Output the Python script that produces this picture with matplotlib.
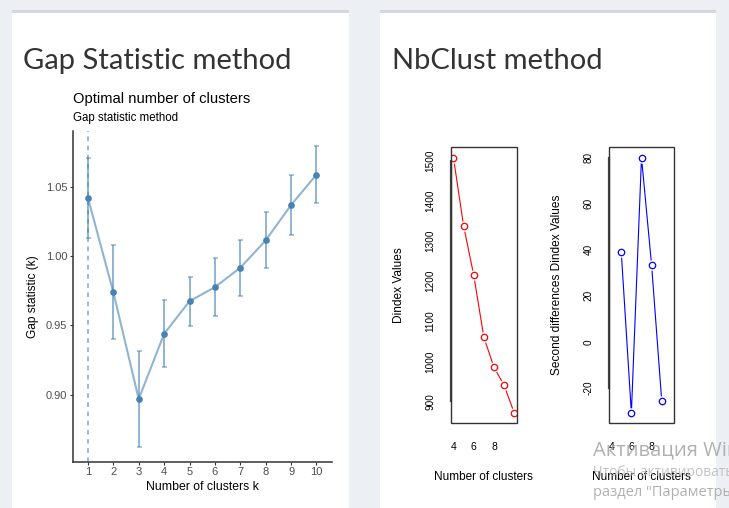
import matplotlib
matplotlib.use("Agg")
import matplotlib.pyplot as plt
from matplotlib.patches import Rectangle
import numpy as np

# ---------------- data ----------------
gap_k = [1, 2, 3, 4, 5, 6, 7, 8, 9, 10]
gap_values = [1.042, 0.974, 0.897, 0.944, 0.9675, 0.9776, 0.9916, 1.0113, 1.0368, 1.0587]
gap_se = [0.029, 0.0337, 0.0343, 0.0242, 0.0176, 0.021, 0.020, 0.0202, 0.0213, 0.0208]
optimal_k = 1
gap_yticks = [0.90, 0.95, 1.00, 1.05]

nb_k = [4, 5, 6, 7, 8, 9, 10]
dindex_values = [1508, 1338, 1215, 1060, 985, 940, 871]
sd_k = [5, 6, 7, 8, 9]
second_diff_values = [39.1, -30.9, 80, 33.2, -25.8]
dindex_yticks = [900, 1000, 1100, 1200, 1300, 1400, 1500]
sd_yticks = [-20, 0, 20, 40, 60, 80]
nb_xticks = [4, 6, 8]

panel_titles = ["Gap Statistic method", "NbClust method"]
watermark = ["Активация Windows", "Чтобы активировать Windows, перейдите в", "раздел \"Параметры\"."]

# ---------------- figure ----------------
W, H, DPI = 729, 508, 100
fig = plt.figure(figsize=(W / DPI, H / DPI), dpi=DPI, facecolor="#ecf0f5")
CF = ["Liberation Sans", "DejaVu Sans"]


def fig_rect(x0, y0, x1, y1, color):
    fig.patches.append(Rectangle((x0 / W, 1 - y1 / H), (x1 - x0) / W, (y1 - y0) / H,
                                 transform=fig.transFigure, facecolor=color,
                                 edgecolor="none", zorder=-10))


def axes_px(x0, y0, x1, y1):
    a = fig.add_axes([x0 / W, 1 - y1 / H, (x1 - x0) / W, (y1 - y0) / H])
    a.set_zorder(5)
    return a


# panels
for (x0, x1) in [(11.7, 349), (380, 716)]:
    fig_rect(x0, 9.5, x1, H + 2, "#d2d6de")
    fig_rect(x0, 12.5, x1, H + 2, "white")

fig.text(23 / W, 1 - 61 / H, panel_titles[0], fontsize=21, family=["Lato", "DejaVu Sans"],
         color="#333333", va="center", ha="left")
fig.text(392 / W, 1 - 61 / H, panel_titles[1], fontsize=21, family=["Lato", "DejaVu Sans"],
         color="#333333", va="center", ha="left")

# ---------------- gap statistic plot ----------------
steel = "#4682B4"
ax = axes_px(72.7, 130.7, 331.7, 461.7)
ax.set_facecolor("none")
lo = np.array(gap_values) - np.array(gap_se)
hi = np.array(gap_values) + np.array(gap_se)
ymin, ymax = lo.min(), hi.max()
pad = 0.05 * (ymax - ymin)
ax.set_ylim(ymin - pad, ymax + pad)
ax.set_xlim(min(gap_k) - 0.6, max(gap_k) + 0.6)
ax.axvline(optimal_k, color=steel, alpha=0.7, lw=1.1, ls=(0, (3, 3)), zorder=1)
ax.errorbar(gap_k, gap_values, yerr=gap_se, fmt="none", ecolor=steel, alpha=0.6,
            elinewidth=1.4, capsize=1.8, capthick=1.1, zorder=2)
ax.plot(gap_k, gap_values, color=steel, alpha=0.6, lw=1.5, zorder=3)
ax.plot(gap_k, gap_values, "o", color=steel, ms=3.8, zorder=4)
for s in ["top", "right"]:
    ax.spines[s].set_visible(False)
for s in ["left", "bottom"]:
    ax.spines[s].set_color("#333333")
    ax.spines[s].set_linewidth(1.1)
ax.set_xticks(gap_k)
ax.set_yticks(gap_yticks)
ax.set_yticklabels([f"{v:.2f}" for v in gap_yticks])
ax.tick_params(axis="both", colors="#333333", labelcolor="#4d4d4d", labelsize=8,
               length=2.5, width=0.8, pad=1.5)
for lab in ax.get_xticklabels() + ax.get_yticklabels():
    lab.set_family(CF)
ax.set_xlabel("Number of clusters k", fontsize=8.8, family=CF, va="center")
ax.xaxis.set_label_coords(0.5, (461.7 - 486.7) / 331)
ax.set_ylabel("Gap statistic (k)", fontsize=8.6, family=CF, va="center")
ax.yaxis.set_label_coords((33.3 - 72.7) / 259, 0.5)
ax.text(0, (461.7 - 99) / 331, "Optimal number of clusters", transform=ax.transAxes,
        fontsize=10.6, family=CF, va="center", ha="left")
ax.text(0, (461.7 - 118) / 331, "Gap statistic method", transform=ax.transAxes,
        fontsize=8.3, family=CF, va="center", ha="left")


# ---------------- NbClust base-R style plots ----------------
def base_plot(x0, x1, xs, ys, color, yticks, ylabel, ylabel_x):
    a = axes_px(x0, 147.3, x1, 423.3)
    a.set_facecolor("none")
    kr = max(nb_k) - min(nb_k)
    a.set_xlim(min(nb_k) - 0.04 * kr, max(nb_k) + 0.04 * kr)
    yr = max(ys) - min(ys)
    a.set_ylim(min(ys) - 0.04 * yr, max(ys) + 0.04 * yr)
    a.plot(xs, ys, color=color, lw=0.8, zorder=2)
    a.plot(xs, ys, "o", ms=7.5, mfc="white", mec="none", zorder=3)
    a.plot(xs, ys, "o", ms=4.6, mfc="white", mec=color, mew=0.9, zorder=4)
    for s in ["top", "right", "bottom"]:
        a.spines[s].set_visible(False)
    a.spines["left"].set_bounds(min(yticks), max(yticks))
    a.spines["left"].set_linewidth(1.6)
    a.spines["left"].set_color("#444444")
    a.add_patch(Rectangle((0, 0), 1, 1, transform=a.transAxes, fill=False,
                          edgecolor="#333333", lw=1.0, zorder=5, clip_on=False))
    a.set_xticks(nb_xticks)
    a.set_yticks(yticks)
    a.set_yticklabels([str(v) for v in yticks], rotation=90, va="center")
    a.tick_params(axis="y", length=0, pad=11, labelsize=7.2)
    a.tick_params(axis="x", length=0, pad=13.5, labelsize=7.5)
    for lab in a.get_xticklabels() + a.get_yticklabels():
        lab.set_family(CF)
    a.set_xlabel("Number of clusters", fontsize=8.5, family=CF, va="center")
    a.xaxis.set_label_coords(0.5, (423.3 - 476.5) / 276)
    a.set_ylabel(ylabel, fontsize=8.6, family=CF, va="center")
    a.yaxis.set_label_coords((ylabel_x - x0) / (x1 - x0), 0.5)
    return a


base_plot(451, 516.7, nb_k, dindex_values, "red", dindex_yticks, "Dindex Values", 399)
base_plot(608.7, 674.3, sd_k, second_diff_values, "blue", sd_yticks,
          "Second differences Dindex Values", 557)

# ---------------- OS watermark ----------------
WF = ["Open Sans", "DejaVu Sans"]
t1 = fig.text(593 / W, 1 - 450 / H, watermark[0], fontsize=14.5, family=WF, color="#a8a8a8",
              va="center", ha="left", alpha=0.9)
t2 = fig.text(593 / W, 1 - 473 / H, watermark[1], fontsize=10, family=WF, color="#b5b5b5",
              va="center", ha="left", alpha=0.8)
t3 = fig.text(593 / W, 1 - 492 / H, watermark[2], fontsize=10.5, family=WF, color="#a8a8a8",
              va="center", ha="left", alpha=0.9)
for t in (t1, t2, t3):
    t.set_zorder(10)

fig.savefig("out.png", dpi=DPI, facecolor=fig.get_facecolor())
